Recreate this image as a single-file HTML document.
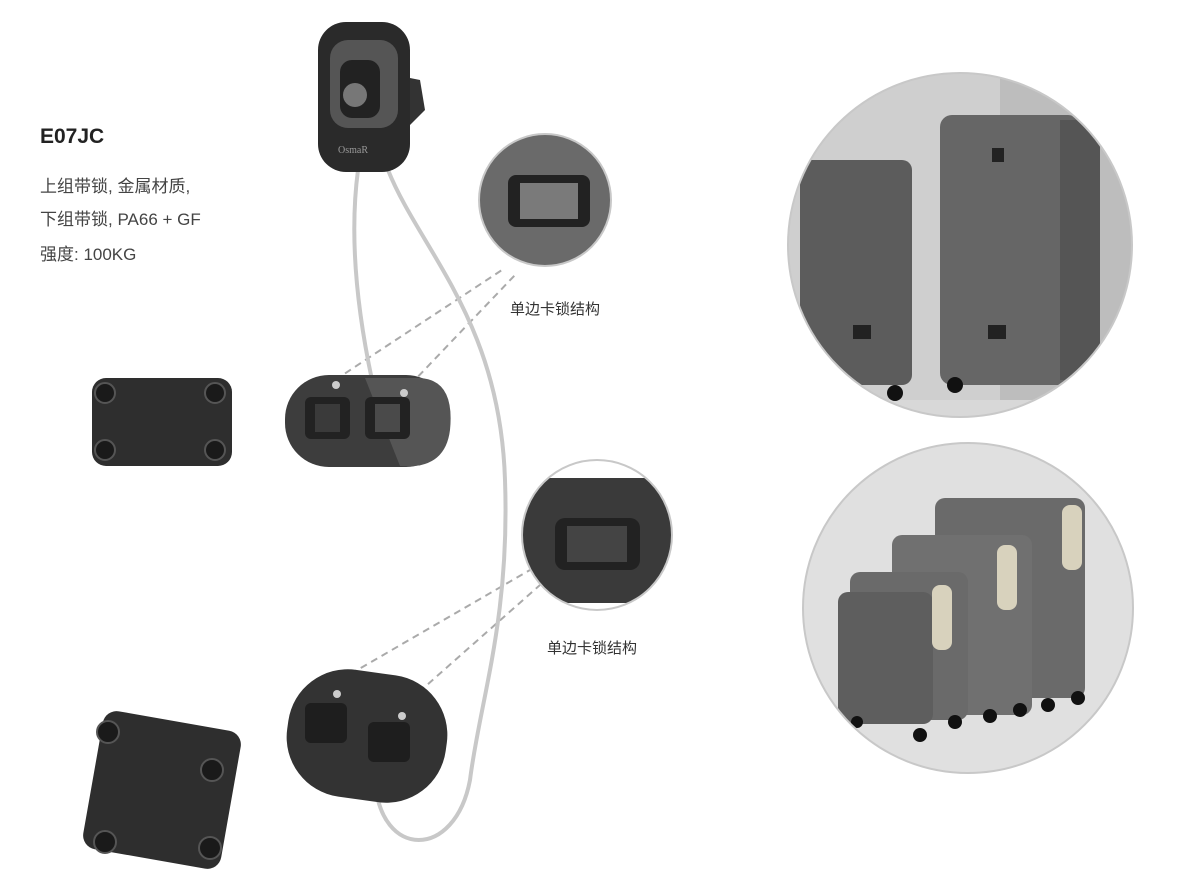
<!DOCTYPE html>
<html><head><meta charset="utf-8"><style>
html,body{margin:0;padding:0;background:#fff;width:1200px;height:882px;overflow:hidden}
svg{display:block}
</style></head><body>
<svg width="1200" height="882" viewBox="0 0 1200 882" xmlns="http://www.w3.org/2000/svg" font-family="'Liberation Sans','Noto Sans CJK SC',sans-serif">
<defs>
<clipPath id="c1"><circle cx="545" cy="200" r="66"/></clipPath>
<clipPath id="c2"><circle cx="597" cy="535" r="75"/></clipPath>
<clipPath id="c3"><circle cx="960" cy="245" r="172"/></clipPath>
<clipPath id="c4"><circle cx="968" cy="608" r="165"/></clipPath>
</defs>
<!-- text -->
<text x="40" y="143" font-size="21" font-weight="bold" fill="#222">E07JC</text>
<text x="40" y="192" font-size="17" fill="#444">上组带锁, 金属材质,</text>
<text x="40" y="225" font-size="17" fill="#444">下组带锁, PA66 + GF</text>
<text x="40" y="260" font-size="17" fill="#444">强度: 100KG</text>
<text x="510" y="314" font-size="15" fill="#333">单边卡锁结构</text>
<text x="547" y="653" font-size="15" fill="#333">单边卡锁结构</text>
<!-- dashed lines -->
<g stroke="#aaa" stroke-width="2" stroke-dasharray="7,5">
<line x1="335" y1="380" x2="505" y2="268"/><line x1="410" y1="385" x2="515" y2="275"/>
<line x1="340" y1="680" x2="530" y2="570"/><line x1="410" y1="700" x2="540" y2="585"/>
</g>
<!-- cable -->
<g fill="none" stroke="#c8c8c8" stroke-width="4">
<path d="M358 170 C350 230 355 300 372 380"/>
<path d="M388 170 C420 250 500 320 505 480 C510 620 480 700 470 780 C455 860 380 860 375 780"/>
</g>
<!-- lock head -->
<path d="M395 75 L420 80 L425 110 L405 130 Z" fill="#333"/>
<rect x="318" y="22" width="92" height="150" rx="28" fill="#2a2a2a"/>
<rect x="330" y="40" width="68" height="88" rx="18" fill="#555"/>
<rect x="340" y="60" width="40" height="58" rx="12" fill="#222"/>
<circle cx="355" cy="95" r="12" fill="#777"/>
<text x="338" y="153" font-size="10" fill="#999" font-family="'Liberation Serif',serif">OsmaR</text>
<!-- middle plates -->
<rect x="285" y="375" width="165" height="92" rx="44" fill="#3d3d3d"/>
<path d="M365 378 L420 378 Q455 380 450 430 Q445 470 400 466 Z" fill="#555"/>
<rect x="305" y="397" width="45" height="42" rx="6" fill="#222"/><rect x="315" y="404" width="25" height="28" fill="#3a3a3a"/>
<rect x="365" y="397" width="45" height="42" rx="6" fill="#222"/><rect x="375" y="404" width="25" height="28" fill="#4a4a4a"/>
<circle cx="336" cy="385" r="4" fill="#ccc"/><circle cx="404" cy="393" r="4" fill="#ccc"/>
<rect x="287" y="672" width="160" height="128" rx="60" fill="#333" transform="rotate(8 367 736)"/>
<rect x="305" y="703" width="42" height="40" rx="6" fill="#1e1e1e"/>
<rect x="368" y="722" width="42" height="40" rx="6" fill="#1e1e1e"/>
<circle cx="337" cy="694" r="4" fill="#ccc"/><circle cx="402" cy="716" r="4" fill="#ccc"/>
<!-- back plates -->
<rect x="92" y="378" width="140" height="88" rx="14" fill="#2e2e2e"/>
<g fill="#1a1a1a" stroke="#555" stroke-width="2">
<circle cx="105" cy="393" r="10"/><circle cx="105" cy="450" r="10"/><circle cx="215" cy="393" r="10"/><circle cx="215" cy="450" r="10"/></g>
<rect x="92" y="720" width="140" height="140" rx="14" fill="#2e2e2e" transform="rotate(10 162 790)"/>
<g fill="#1a1a1a" stroke="#555" stroke-width="2">
<circle cx="108" cy="732" r="11"/><circle cx="105" cy="842" r="11"/><circle cx="212" cy="770" r="11"/><circle cx="210" cy="848" r="11"/></g>
<!-- small circles -->
<g clip-path="url(#c1)"><rect x="470" y="120" width="150" height="160" fill="#fff"/><rect x="470" y="135" width="150" height="140" fill="#6a6a6a"/>
<rect x="508" y="175" width="82" height="52" rx="8" fill="#222"/><rect x="520" y="183" width="58" height="36" fill="#7a7a7a"/></g>
<circle cx="545" cy="200" r="66" fill="none" stroke="#c8c8c8" stroke-width="2"/>
<g clip-path="url(#c2)"><rect x="520" y="458" width="160" height="160" fill="#fff"/><rect x="520" y="478" width="160" height="125" fill="#3a3a3a"/>
<rect x="555" y="518" width="85" height="52" rx="10" fill="#222"/><rect x="567" y="526" width="60" height="36" fill="#444"/></g>
<circle cx="597" cy="535" r="75" fill="none" stroke="#c8c8c8" stroke-width="2"/>
<!-- big circles -->
<g clip-path="url(#c3)"><rect x="780" y="70" width="360" height="350" fill="#d8d8d8"/>
<rect x="780" y="70" width="220" height="330" fill="#cfcfcf"/>
<rect x="1000" y="70" width="150" height="330" fill="#bdbdbd"/>
<rect x="800" y="160" width="112" height="225" rx="10" fill="#5c5c5c"/>
<rect x="940" y="115" width="140" height="270" rx="12" fill="#666"/>
<rect x="1060" y="120" width="40" height="260" fill="#555"/>
<rect x="992" y="148" width="12" height="14" fill="#222"/><rect x="988" y="325" width="18" height="14" fill="#222"/><rect x="853" y="325" width="18" height="14" fill="#222"/>
<circle cx="895" cy="393" r="8" fill="#111"/><circle cx="955" cy="385" r="8" fill="#111"/></g>
<circle cx="960" cy="245" r="172" fill="none" stroke="#c8c8c8" stroke-width="2"/>
<g clip-path="url(#c4)"><rect x="800" y="440" width="340" height="340" fill="#e0e0e0"/>
<rect x="935" y="498" width="150" height="200" rx="10" fill="#6a6a6a"/>
<rect x="892" y="535" width="140" height="180" rx="10" fill="#707070"/>
<rect x="850" y="572" width="118" height="148" rx="10" fill="#6a6a6a"/>
<rect x="838" y="592" width="95" height="132" rx="10" fill="#5e5e5e"/>
<rect x="932" y="585" width="20" height="65" rx="8" fill="#d8d2bd"/><rect x="997" y="545" width="20" height="65" rx="8" fill="#d8d2bd"/><rect x="1062" y="505" width="20" height="65" rx="8" fill="#d8d2bd"/>
<g fill="#111"><circle cx="857" cy="722" r="6"/><circle cx="920" cy="735" r="7"/><circle cx="955" cy="722" r="7"/><circle cx="990" cy="716" r="7"/><circle cx="1020" cy="710" r="7"/><circle cx="1048" cy="705" r="7"/><circle cx="1078" cy="698" r="7"/></g></g>
<circle cx="968" cy="608" r="165" fill="none" stroke="#c8c8c8" stroke-width="2"/>
</svg>
</body></html>
